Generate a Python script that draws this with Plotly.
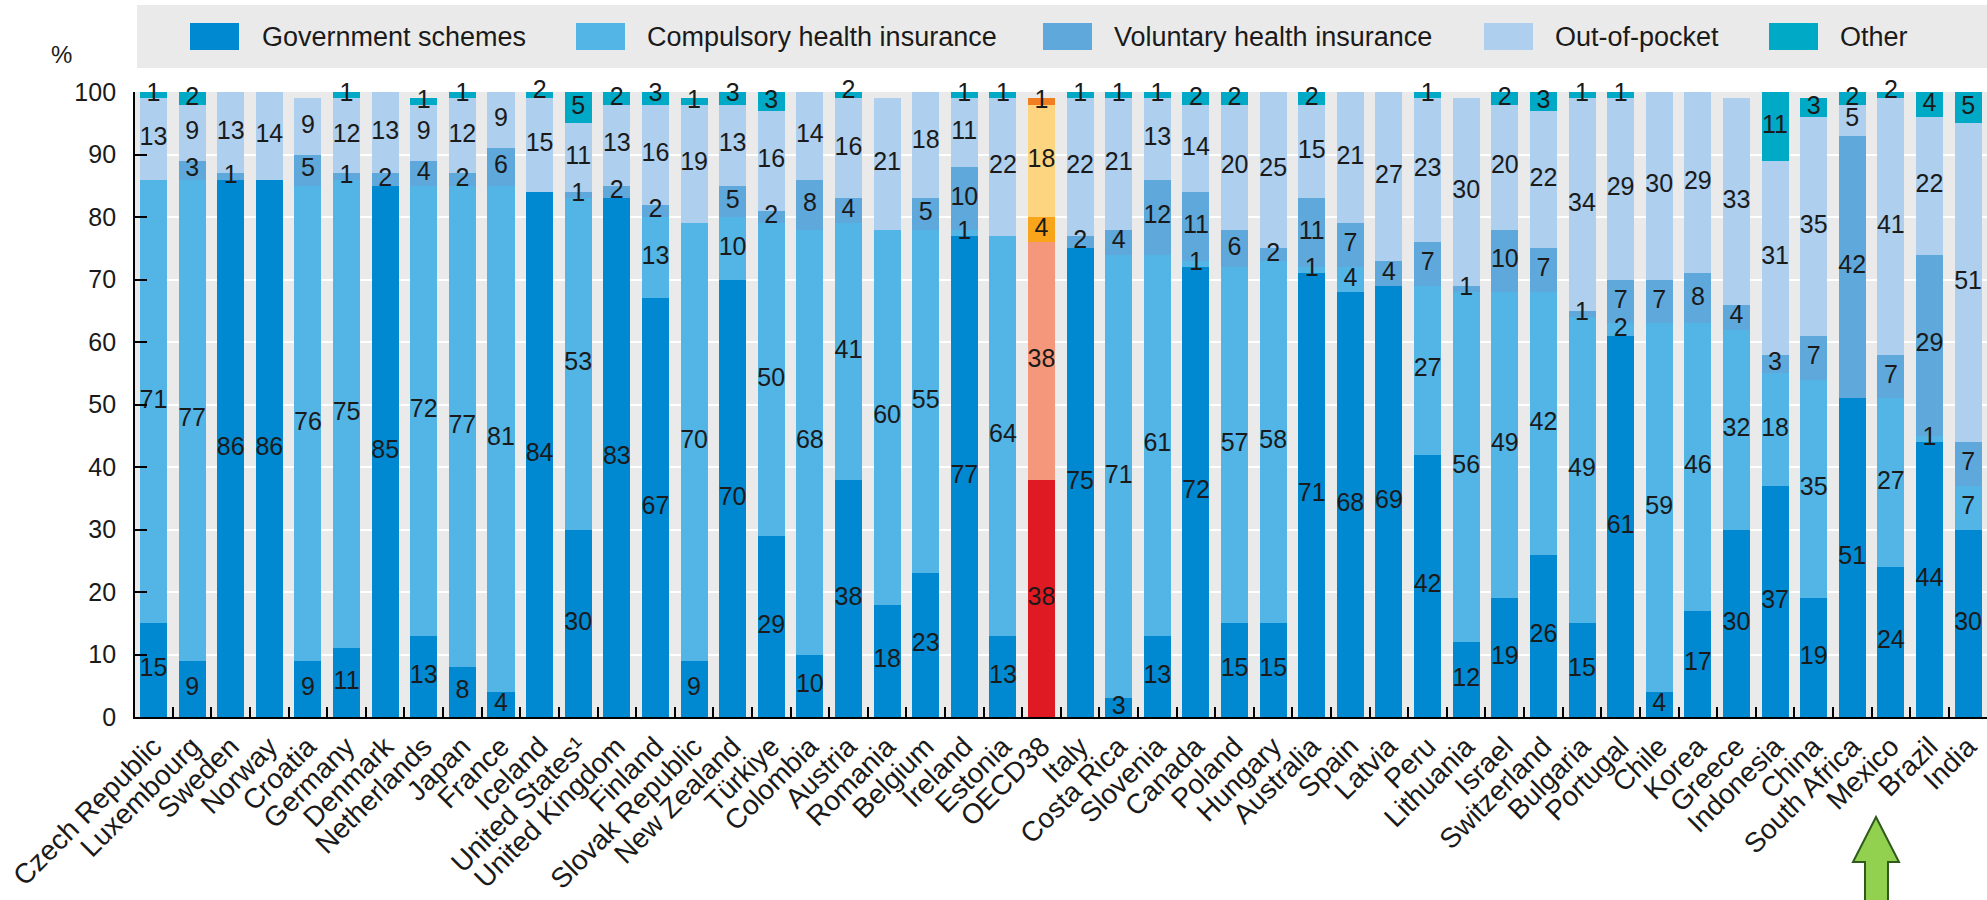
import plotly.graph_objects as go

# Health expenditure by type of financing scheme, share of current spending (%)
countries = [
    "Czech Republic", "Luxembourg", "Sweden", "Norway", "Croatia", "Germany",
    "Denmark", "Netherlands", "Japan", "France", "Iceland", "United States¹",
    "United Kingdom", "Finland", "Slovak Republic", "New Zealand", "Türkiye",
    "Colombia", "Austria", "Romania", "Belgium", "Ireland", "Estonia", "OECD38",
    "Italy", "Costa Rica", "Slovenia", "Canada", "Poland", "Hungary",
    "Australia", "Spain", "Latvia", "Peru", "Lithuania", "Israel",
    "Switzerland", "Bulgaria", "Portugal", "Chile", "Korea", "Greece",
    "Indonesia", "China", "South Africa", "Mexico", "Brazil", "India",
]

government = [15, 9, 86, 86, 9, 11, 85, 13, 8, 4, 84, 30, 83, 67, 9, 70, 29, 10,
              38, 18, 23, 77, 13, 38, 75, 3, 13, 72, 15, 15, 71, 68, 69, 42, 12,
              19, 26, 15, 61, 4, 17, 30, 37, 19, 51, 24, 44, 30]
compulsory = [71, 77, 0, 0, 76, 75, 0, 72, 77, 81, 0, 53, 0, 13, 70, 10, 50, 68,
              41, 60, 55, 1, 64, 38, 0, 71, 61, 1, 57, 58, 1, 4, 0, 27, 56,
              49, 42, 49, 2, 59, 46, 32, 18, 35, 0, 27, 1, 7]
voluntary = [0, 3, 1, 0, 5, 1, 2, 4, 2, 6, 0, 1, 2, 2, 0, 5, 2, 8,
             4, 0, 5, 10, 0, 4, 2, 4, 12, 11, 6, 2, 11, 7, 4, 7, 1,
             10, 7, 1, 7, 7, 8, 4, 3, 7, 42, 7, 29, 7]
out_of_pocket = [13, 9, 13, 14, 9, 12, 13, 9, 12, 9, 15, 11, 13, 16, 19, 13, 16, 14,
                 16, 21, 18, 11, 22, 18, 22, 21, 13, 14, 20, 25, 15, 21, 27, 23, 30,
                 20, 22, 34, 29, 30, 29, 33, 31, 35, 5, 41, 22, 51]
other = [1, 2, 0, 0, 0, 1, 0, 1, 1, 1, 2, 5, 2, 3, 1, 3, 3, 0,
         2, 0, 0, 1, 1, 1, 1, 1, 1, 2, 2, 1, 2, 0, 0, 1, 0,
         2, 3, 1, 1, 0, 1, 0, 11, 3, 2, 2, 4, 5]

series_names = ["Government schemes", "Compulsory health insurance",
                "Voluntary health insurance", "Out-of-pocket", "Other"]
series_values = [government, compulsory, voluntary, out_of_pocket, other]
series_colors = ["#0088D1", "#53B4E6", "#5FA8DC", "#AECFEE", "#00A9C6"]
average_colors = ["#E01A22", "#F4977B", "#F9A51B", "#FDD580", "#F07F22"]
average_label = "OECD38"

FONT = "Liberation Sans, Arial, sans-serif"
INK = "#1a1a1a"

# Plot-area geometry in pixels (used to place the custom legend and arrow)
W_FIG, H_FIG = 1987, 900
L, R, T, B = 135, 1987, 92, 717


def fx(x):
    return (x - L) / (R - L)


def fy(y):
    return (B - y) / (B - T)


fig = go.Figure()

# Stacked bars, the OECD average highlighted in its own palette
for name, vals, col, avg_col in zip(series_names, series_values, series_colors, average_colors):
    colors = [avg_col if c == average_label else col for c in countries]
    fig.add_trace(go.Bar(
        x=countries, y=vals, name=name,
        marker=dict(color=colors, line=dict(width=0)),
        showlegend=False, hoverinfo="x+y+name",
    ))

# Value labels at the middle of each segment
lab_x, lab_y, lab_t = [], [], []
for i, c in enumerate(countries):
    base = 0
    for vals in series_values:
        v = vals[i]
        if v > 0:
            lab_x.append(c)
            lab_y.append(base + v / 2)
            lab_t.append(str(v))
        base += v
fig.add_trace(go.Scatter(
    x=lab_x, y=lab_y, text=lab_t, mode="text",
    textposition="middle center",
    textfont=dict(family=FONT, size=25, color=INK),
    cliponaxis=False, showlegend=False, hoverinfo="skip",
))

shapes = []
annotations = []

# Legend band
shapes.append(dict(type="rect", xref="paper", yref="paper",
                   x0=fx(137), x1=fx(1987), y0=fy(68), y1=fy(5),
                   fillcolor="#EAEAEA", line=dict(width=0), layer="above"))
legend_pos = [(190, 260), (576, 645), (1043, 1112), (1484, 1553), (1769, 1838)]
for (sx, tx), name, col in zip(legend_pos, series_names, series_colors):
    shapes.append(dict(type="rect", xref="paper", yref="paper",
                       x0=fx(sx), x1=fx(sx + 49), y0=fy(50), y1=fy(23),
                       fillcolor=col, line=dict(width=0), layer="above"))
    annotations.append(dict(x=fx(tx), y=fy(36.5), xref="paper", yref="paper",
                            text=name, showarrow=False, xanchor="left", yanchor="middle",
                            font=dict(family=FONT, size=27, color=INK)))

# Axis unit
annotations.append(dict(x=fx(61), y=fy(54), xref="paper", yref="paper", text="%",
                        showarrow=False, xanchor="center", yanchor="middle",
                        font=dict(family=FONT, size=24, color=INK)))

# Green arrow pointing at Mexico
arrow_pts = [(1876, 817), (1899, 862), (1888, 862), (1888, 905),
             (1865, 905), (1865, 862), (1853, 862)]
path = "M " + " L ".join(f"{fx(x):.5f},{fy(y):.5f}" for x, y in arrow_pts) + " Z"
shapes.append(dict(type="path", xref="paper", yref="paper", path=path,
                   fillcolor="#92D050", line=dict(color="#2E5A1C", width=2),
                   layer="above"))

fig.update_layout(
    width=W_FIG, height=H_FIG,
    margin=dict(l=L, r=W_FIG - R, t=T, b=H_FIG - B, pad=0),
    barmode="stack", bargap=0.30,
    plot_bgcolor="#EAEAEA", paper_bgcolor="white",
    font=dict(family=FONT, size=24, color=INK),
    shapes=shapes, annotations=annotations,
    showlegend=False,
)
fig.update_xaxes(
    type="category", range=[-0.48, len(countries) - 0.51],
    showline=True, linecolor="black", linewidth=2, mirror=False,
    ticks="inside", tickson="boundaries", ticklen=10, tickwidth=2, tickcolor="black",
    tickangle=-45, tickfont=dict(family=FONT, size=28, color=INK),
    showgrid=False, zeroline=False,
)
fig.update_yaxes(
    range=[0, 100], dtick=10, tick0=0,
    showline=True, linecolor="black", linewidth=2,
    ticks="inside", ticklen=12, tickwidth=2, tickcolor="black",
    ticksuffix="\u00a0\u2009",
    tickfont=dict(family=FONT, size=25, color=INK),
    showgrid=True, gridcolor="white", gridwidth=2, zeroline=False,
)

fig.write_html("out.html")
